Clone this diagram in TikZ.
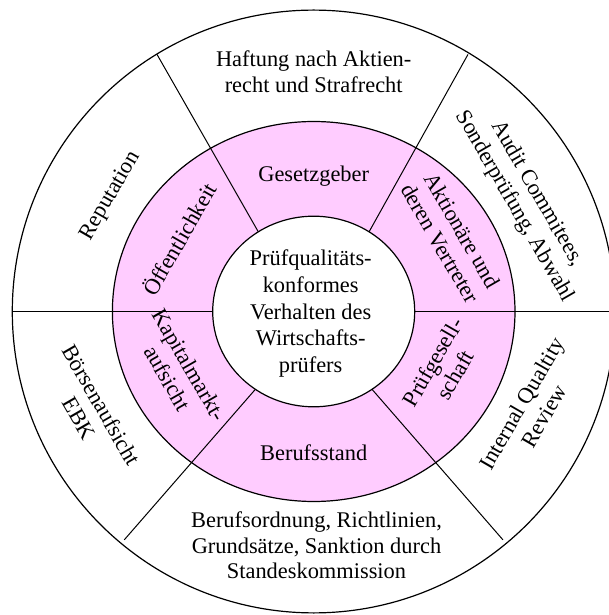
\documentclass[tikz,border=0pt]{standalone}
\usepackage{fontspec}
\setmainfont{Liberation Serif}
\definecolor{ringpink}{RGB}{255,204,255}
\begin{document}
\begin{tikzpicture}
  [x=1pt,y=1pt,
   ring/.style={draw=black,line width=1.2pt},
   spoke/.style={draw=black,line width=1pt},
   ringtext/.style={align=center,inner sep=0,
                    font=\fontsize{22.4}{25.6}\selectfont},
   centertext/.style={align=center,inner sep=0,
                      font=\fontsize{22.4}{26.7}\selectfont}]
  \useasboundingbox (-313.7,-303.5) rectangle (295.3,311.5);
  % rings
  \draw[ring,fill=white] (0,0) circle [radius=301.4];
  \draw[ring,fill=ringpink] (0,0) ellipse [x radius=201.3,y radius=190];
  % spokes
  \coordinate (ulout) at (-156.7,257.1);
  \coordinate (ulin) at (-55,79);
  \coordinate (urout) at (154.3,257.1);
  \coordinate (urin) at (55,79);
  \coordinate (llout) at (-189.4,-228.3);
  \coordinate (llin) at (-55,-74);
  \coordinate (lrout) at (189.2,-228.3);
  \coordinate (lrin) at (55,-74);
  \coordinate (lout) at (-301.4,0);
  \coordinate (rout) at (301.4,0);
  \draw[spoke] (ulout) -- (ulin);
  \draw[spoke] (urout) -- (urin);
  \draw[spoke] (llout) -- (llin);
  \draw[spoke] (lrout) -- (lrin);
  \draw[spoke] (lout) -- (rout);
  \draw[ring,fill=white] (0,0) ellipse [x radius=101,y radius=95.3];
  % centre
  \node[centertext] (wp) at (-3,-2) {Prüfqualitäts-\\konformes\\Verhalten des\\Wirtschafts-\\prüfers};
  % middle ring
  \node[ringtext] (gesetz) at (0,135) {Gesetzgeber};
  \node[ringtext,rotate=60] (oeff) at (-135,72.7) {Öffentlichkeit};
  \node[ringtext,rotate=-60] (aktion) at (137.5,74.6) {Aktionäre und\\deren Vertreter};
  \node[ringtext,rotate=-60] (kapital) at (-135,-60) {Kapitalmarkt-\\aufsicht};
  \node[ringtext,rotate=60] (pruefges) at (130,-57) {Prüfgesell-\\schaft};
  \node[ringtext] (beruf) at (0,-141) {Berufsstand};
  % outer ring
  \node[ringtext] (haftung) at (0,239.7) {Haftung nach Aktien-\\recht und Strafrecht};
  \node[ringtext,rotate=60] (reput) at (-203,115.4) {Reputation};
  \node[ringtext,rotate=-60] (audit) at (212,111.5) {Audit Commitees,\\Sonderprüfung, Abwahl};
  \node[ringtext,rotate=-60] (boerse) at (-223,-100) {Börsenaufsicht\\EBK};
  \node[ringtext,rotate=60] (iqr) at (219,-98) {Internal Qualtity\\Review};
  \node[ringtext] (berufsord) at (2.8,-234) {Berufsordnung, Richtlinien,\\Grundsätze, Sanktion durch\\Standeskommission};
\end{tikzpicture}
\end{document}
